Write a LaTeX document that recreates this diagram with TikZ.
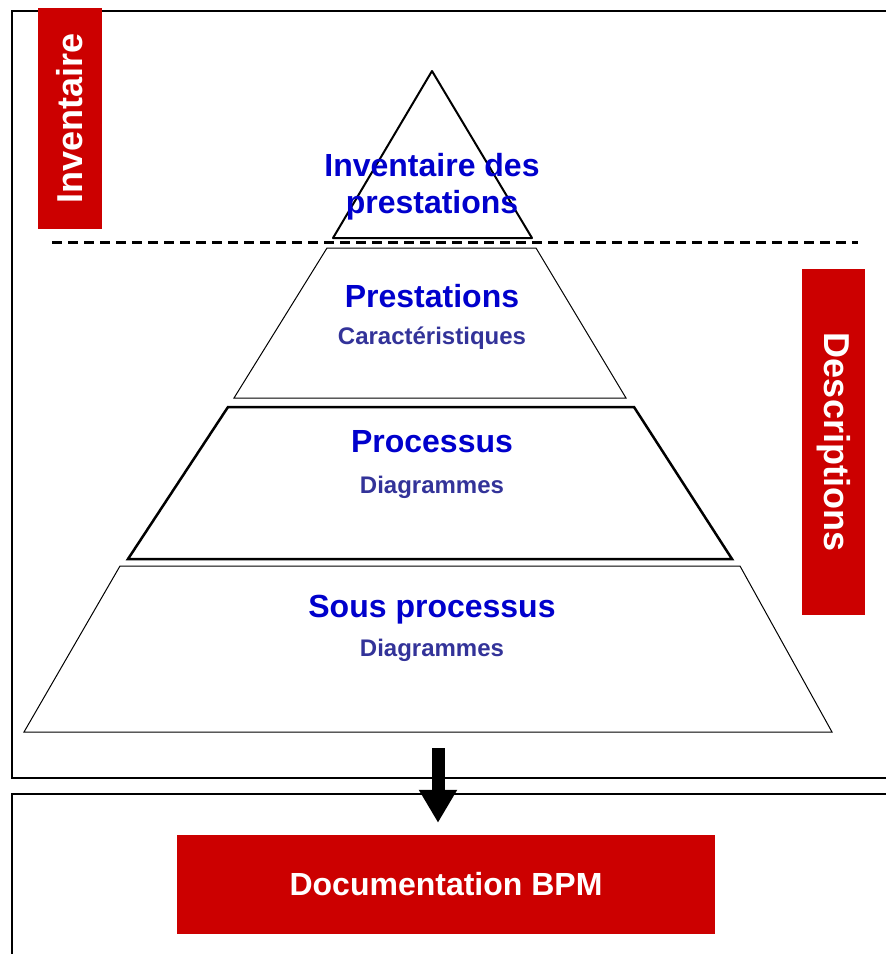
\documentclass[tikz,border=0pt]{standalone}
\usepackage{fontspec}
\setmainfont{Liberation Sans}
\usetikzlibrary{arrows.meta}

\definecolor{bpmred}{RGB}{204,0,0}
\definecolor{titleblue}{RGB}{0,0,204}
\definecolor{subblue}{RGB}{51,51,153}

\tikzset{
  redtab/.style={fill=bpmred,text=white,inner sep=0pt,
    font=\fontsize{36}{40}\selectfont\bfseries},
  layertitle/.style={text=titleblue,font=\fontsize{32}{38}\selectfont\bfseries,
    align=center},
  layersub/.style={text=subblue,font=\fontsize{24}{28}\selectfont\bfseries},
}

\begin{document}
\begin{tikzpicture}[x=1pt,y=-1pt]
  \clip (0,0) rectangle (886,954);
  % frames
  \draw[line width=2pt] (12,11) rectangle +(900,767);
  \draw[line width=2pt] (12,794) rectangle +(900,200);

  % pyramid
  \draw[line width=2pt,line join=round] (432,71) -- (532,238) -- (333,238) -- cycle;
  \draw[line width=3pt,dash pattern=on 10pt off 6pt] (52,242) -- (858,242);
  \draw[line width=1pt] (327,248) -- (536,248) -- (626,398) -- (234,398) -- cycle;
  \draw[line width=2.5pt] (228,407) -- (634,407) -- (732,559) -- (128,559) -- cycle;
  \draw[line width=1pt] (120,566) -- (740,566) -- (832,732) -- (24,732) -- cycle;

  \node[layertitle] (inv) at (432,187) {Inventaire des\\[-1pt]prestations};
  \node[layertitle] (prest) at (432,296) {Prestations};
  \node[layersub] (carac) at (432,338) {Caractéristiques};
  \node[layertitle] (proc) at (432,442) {Processus};
  \node[layersub] (diag1) at (432,487) {Diagrammes};
  \node[layertitle] (sousproc) at (432,610) {Sous processus};
  \node[layersub] (diag2) at (432,650) {Diagrammes};

  % red tabs
  \node[redtab,minimum width=221pt,minimum height=64pt,rotate=90]
    (tabinv) at (70,118.5) {Inventaire};
  \node[redtab,minimum width=346pt,minimum height=63pt,rotate=-90]
    (tabdesc) at (833.5,442) {Descriptions};
  \node[redtab,minimum width=538pt,minimum height=99pt,
    font=\fontsize{32}{36}\selectfont\bfseries]
    (bpm) at (446,884.5) {Documentation BPM};

  % arrow
  \coordinate (arrtop) at (438,748);
  \draw[line width=13pt,-{Triangle[width=36pt,length=33pt]}]
    (arrtop) -- ([yshift=12pt]bpm.north -| arrtop);
\end{tikzpicture}
\end{document}
